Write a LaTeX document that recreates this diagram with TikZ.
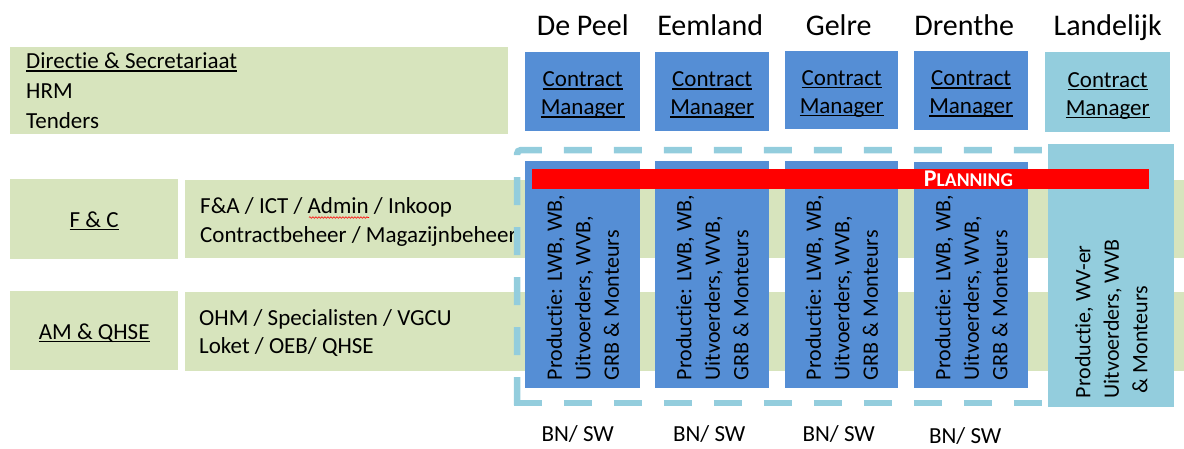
\documentclass[tikz,border=0pt]{standalone}
\usepackage{fontspec}
\setmainfont{Carlito}[Ligatures=NoCommon]
\usetikzlibrary{positioning, decorations.pathmorphing}

\definecolor{BandGreen}{RGB}{215,228,189}
\definecolor{RegionBlue}{RGB}{85,142,213}
\definecolor{LandBlue}{RGB}{147,205,221}
\definecolor{PlanRed}{RGB}{255,0,0}

\newcommand{\underlined}[1]{\setbox0=\hbox{#1}\rlap{\rule[-2.8pt]{\wd0}{1.3pt}}\box0}
\newcommand{\cmtext}{\rule{0pt}{22pt}\underlined{Contract}\\\underlined{Manager}}

\tikzset{
  band/.style={fill=BandGreen, anchor=north west, inner sep=0pt},
  regionbox/.style={fill=RegionBlue, anchor=north west, inner sep=0pt, align=center, font=\fontsize{23}{28}\selectfont},
  landbox/.style={fill=LandBlue, anchor=north west, inner sep=0pt, align=center, font=\fontsize{23}{28}\selectfont},
  bodytext/.style={inner sep=0pt, align=left, font=\fontsize{23}{29}\selectfont},
  rottext/.style={inner sep=0pt, align=left, rotate=90, anchor=west, font=\fontsize{22}{28.5}\selectfont},
  header/.style={inner sep=0pt, anchor=base, font=\fontsize{30}{36}\selectfont},
  planbar/.style={fill=PlanRed, anchor=north west, inner sep=0pt},
  dashframe/.style={draw=LandBlue, line width=6.5pt, dash pattern=on 28pt off 22pt},
}

\begin{document}
\begin{tikzpicture}[x=1pt, y=-1pt]

\useasboundingbox (0,0) rectangle (1184,448);

\node[band, minimum width=498pt, minimum height=87pt] (dirband) at (10,47) {};
\node[band, minimum width=168pt, minimum height=80pt] (fcband) at (10,179) {};
\node[band, minimum width=1000pt, minimum height=78pt] (faband) at (185,180) {};
\node[band, minimum width=168pt, minimum height=79pt] (amband) at (10,291) {};
\node[band, minimum width=1000pt, minimum height=79pt] (ohmband) at (185,292) {};

\node[bodytext, anchor=west, font=\fontsize{23}{30}\selectfont] (dirtext) at (26,91)
     {\underlined{Directie \& Secretariaat}\\HRM\\Tenders};
\node[bodytext, align=center] (fctext) at ([yshift=-2pt]fcband.center) {\underlined{F \& C}};
\node[bodytext, align=center] (amtext) at ([yshift=-2pt]amband.center) {\underlined{AM \& QHSE}};
\node[bodytext, anchor=west] (fatext) at (200,222)
     {F\&A / ICT / Admin / Inkoop\\Contractbeheer / Magazijnbeheer};
\node[bodytext, anchor=west, font=\fontsize{23}{28}\selectfont] (ohmtext) at (199,333)
     {OHM / Specialisten / VGCU\\Loket / OEB/ QHSE};
\draw[PlanRed, line width=0.6pt, decorate, decoration={snake, amplitude=0.8pt, segment length=3pt}]
     (309,217.5) -- (369,217.5);

\draw[dashframe, rounded corners=4pt] (517,405) -- (517,150) -- (1045,150);
\draw[dashframe] (513.75,403) -- (1045,403);

\node[regionbox, minimum width=115pt, minimum height=79pt] (cmpeel) at (525,52) {\cmtext};
\node[regionbox, minimum width=114pt, minimum height=79pt] (cmeem) at (655,52) {\cmtext};
\node[regionbox, minimum width=113pt, minimum height=78pt] (cmgelre) at (785,51) {\cmtext};
\node[regionbox, minimum width=114pt, minimum height=79pt] (cmdrenthe) at (914,51) {\cmtext};
\node[landbox, minimum width=125pt, minimum height=80pt] (cmland) at (1045,52) {\cmtext};

\node[header] (peel) at ([yshift=17pt]cmpeel.north) {De Peel};
\node[header] (eemland) at ([xshift=-2pt, yshift=17pt]cmeem.north) {Eemland};
\node[header] (gelre) at ([xshift=-3pt, yshift=16pt]cmgelre.north) {Gelre};
\node[header] (drenthe) at ([xshift=-7pt, yshift=16pt]cmdrenthe.north) {Drenthe};
\node[header] (landelijk) at ([yshift=17pt]cmland.north) {Landelijk};

\node[regionbox, minimum width=115pt, minimum height=227pt] (prodpeel) at (525,161) {};
\node[regionbox, minimum width=114pt, minimum height=227pt] (prodeem) at (655,161) {};
\node[regionbox, minimum width=113pt, minimum height=227pt] (prodgelre) at (785,161) {};
\node[regionbox, minimum width=114pt, minimum height=226pt] (proddrenthe) at (914,162) {};
\node[landbox, minimum width=126pt, minimum height=263pt] (prodland) at (1048,144) {};

\node[rottext] (peeltext) at ([yshift=8pt]prodpeel.south) {Productie: LWB, WB,\\Uitvoerders, WVB,\\GRB \& Monteurs};
\node[rottext] (eemtext) at ([yshift=8pt]prodeem.south) {Productie: LWB, WB,\\Uitvoerders, WVB,\\GRB \& Monteurs};
\node[rottext] (gelretext) at ([yshift=8pt]prodgelre.south) {Productie: LWB, WB,\\Uitvoerders, WVB,\\GRB \& Monteurs};
\node[rottext] (drenthetext) at ([yshift=8pt]proddrenthe.south) {Productie: LWB, WB,\\Uitvoerders, WVB,\\GRB \& Monteurs};
\node[rottext] (landtext) at ([yshift=9pt]prodland.south) {Productie, WV-er\\Uitvoerders, WVB\\\ \& Monteurs};

\node[planbar, minimum width=617pt, minimum height=20pt] (planning) at (532,169) {};
\node[inner sep=0pt, text=white, font=\bfseries\fontsize{24}{24}\selectfont] (planlabel)
     at ([xshift=-181pt, yshift=0.5pt]planning.east) {P{\fontsize{19.5}{19.5}\selectfont LANNING}};

\node[bodytext, anchor=base] (bnpeel) at ([xshift=-5pt, yshift=-53pt]prodpeel.south) {BN/ SW};
\node[bodytext, anchor=base] (bneem) at ([xshift=-3pt, yshift=-53pt]prodeem.south) {BN/ SW};
\node[bodytext, anchor=base] (bngelre) at ([xshift=-3pt, yshift=-53pt]prodgelre.south) {BN/ SW};
\node[bodytext, anchor=base] (bndrenthe) at ([xshift=-6pt, yshift=-55pt]proddrenthe.south) {BN/ SW};

\end{tikzpicture}
\end{document}
